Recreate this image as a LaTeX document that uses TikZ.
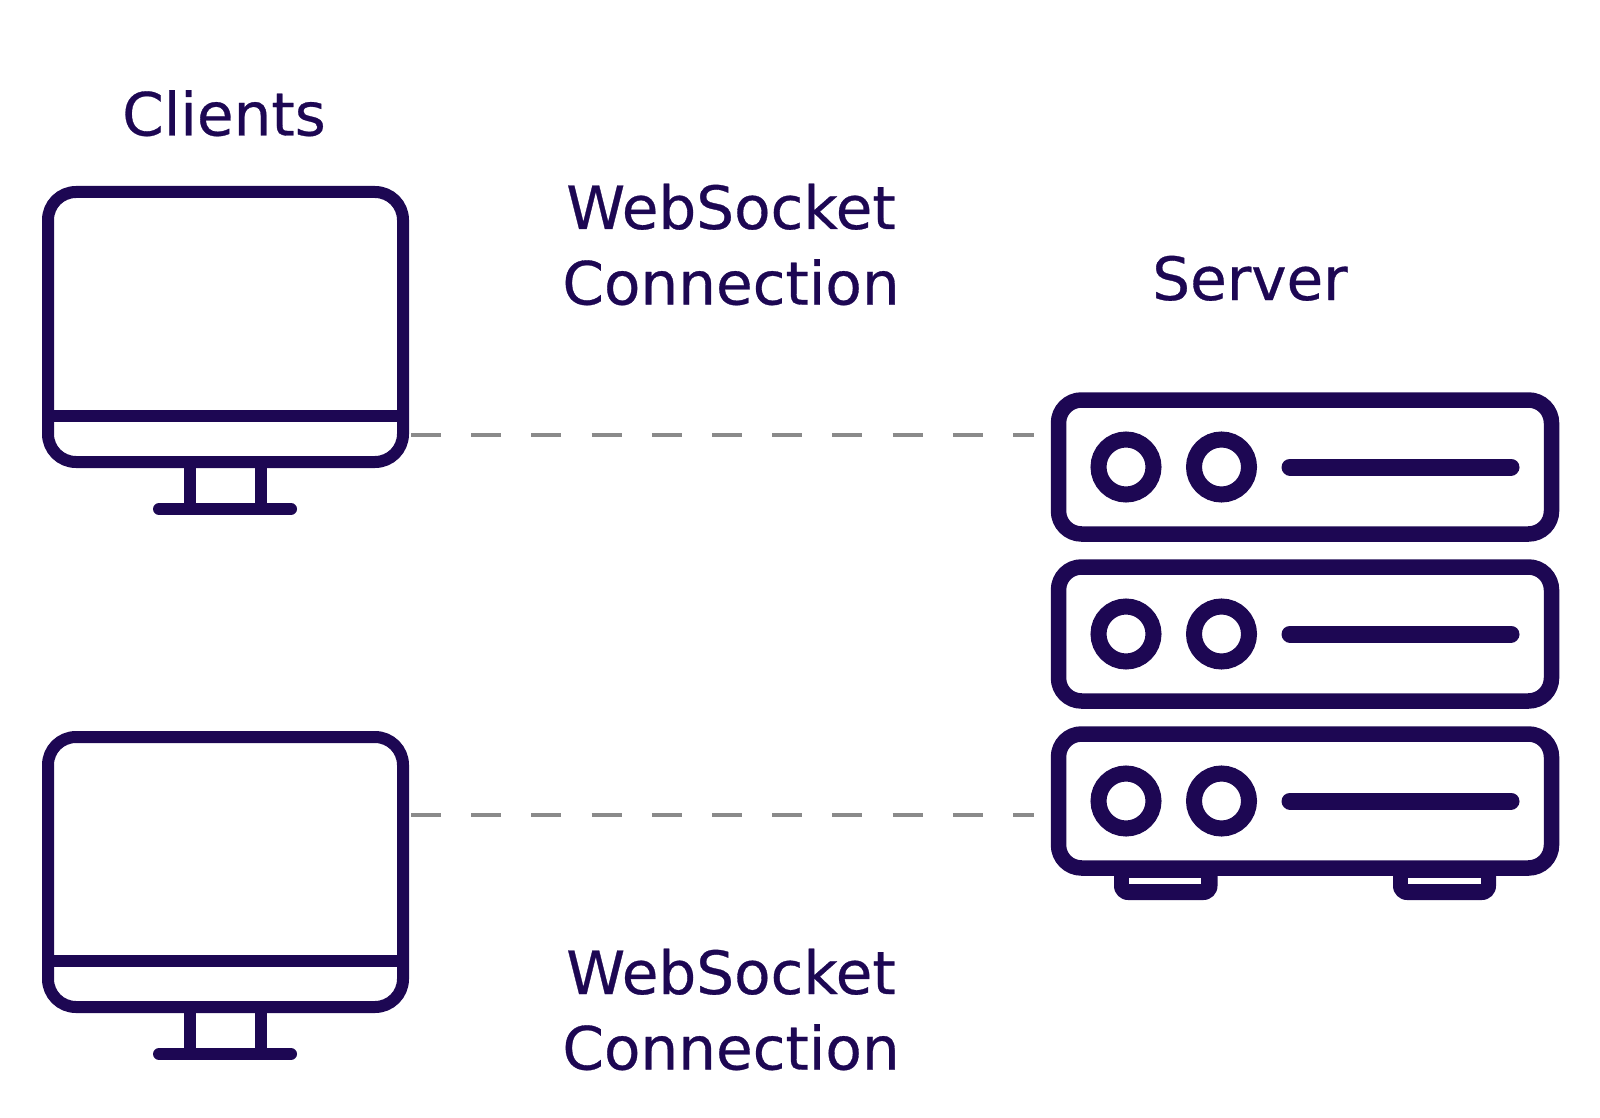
\documentclass[tikz,border=0pt]{standalone}
\usepackage{fontspec}
\setmainfont{DejaVu Sans}
\newfontfamily\labelfont[FakeBold=0.5]{DejaVu Sans}
\definecolor{ink}{HTML}{1D0753}
\definecolor{wire}{HTML}{8A8A8A}
\tikzset{
  screen/.style={draw=ink,line width=12pt,rounded corners=28pt,minimum width=355pt,minimum height=270pt,inner sep=0pt,outer sep=0pt},
  rack/.style={draw=ink,line width=15.5pt,rounded corners=23pt,minimum width=493pt,minimum height=134pt,inner sep=0pt,outer sep=0pt},
  lamp/.style={circle,draw=ink,line width=16pt,minimum size=55pt,inner sep=0pt,outer sep=0pt},
  thin part/.style={draw=ink,line width=12pt},
  round part/.style={draw=ink,line width=12pt,line cap=round},
  slot/.style={draw=ink,line width=17pt,line cap=round},
  foot/.style={fill=ink},
  foot gap/.style={fill=white},
  label/.style={text=ink,font=\labelfont\fontsize{59.6}{72}\selectfont,inner sep=0pt,anchor=base,align=center},
  link/.style={draw=wire,line width=4pt,dash pattern=on 30pt off 30.2pt}
}
\begin{document}
\begin{tikzpicture}[x=1pt,y=-1pt]
\useasboundingbox (0,0) rectangle (1600,1118);
% clients
\node[screen] (clientA) at (225.5,327) {};
\draw[thin part] (48,416) -- (403,416);
\draw[thin part] (190,462) -- (190,509);
\draw[thin part] (261,462) -- (261,509);
\draw[round part] (159,509) -- (291,509);
\node[screen] (clientB) at (225.5,872) {};
\draw[thin part] (48,961) -- (403,961);
\draw[thin part] (190,1007) -- (190,1054);
\draw[thin part] (261,1007) -- (261,1054);
\draw[round part] (159,1054) -- (291,1054);
% server feet
\fill[foot] (1114,868) [rounded corners=14pt] -- (1114,900) -- (1217.5,900) [sharp corners] -- (1217.5,868) -- cycle;
\fill[foot gap] (1129,877.5) rectangle (1201,884);
\fill[foot] (1393,868) [rounded corners=14pt] -- (1393,900) -- (1496,900) [sharp corners] -- (1496,868) -- cycle;
\fill[foot gap] (1408,877.5) rectangle (1481,884);
% server
\foreach \n/\y in {a/467,b/634,c/801}{
  \node[rack] (rack\n) at (1305,\y) {};
  \node[lamp] (lamp\n1) at (1126,\y) {};
  \node[lamp] (lamp\n2) at (1221.5,\y) {};
  \draw[slot] (1290,\y) -- (1511,\y);
}
% connectors
\coordinate (portA) at (411,435);
\coordinate (portB) at (411,815);
\coordinate (inA) at (1034,435);
\coordinate (inB) at (1034,815);
\draw[link] (portA) -- (inA);
\draw[link] (portB) -- (inB);
% labels
\node[label] (clients) at (224,135.5) {Clients};
\node[label] (server) at (1250,300) {Server};
\node[label] (wsA) at (731,229) {WebSocket};
\node[label] (connA) at (731,304.5) {Connection};
\node[label] (wsB) at (731,994) {WebSocket};
\node[label] (connB) at (731,1069.5) {Connection};
\end{tikzpicture}
\end{document}
